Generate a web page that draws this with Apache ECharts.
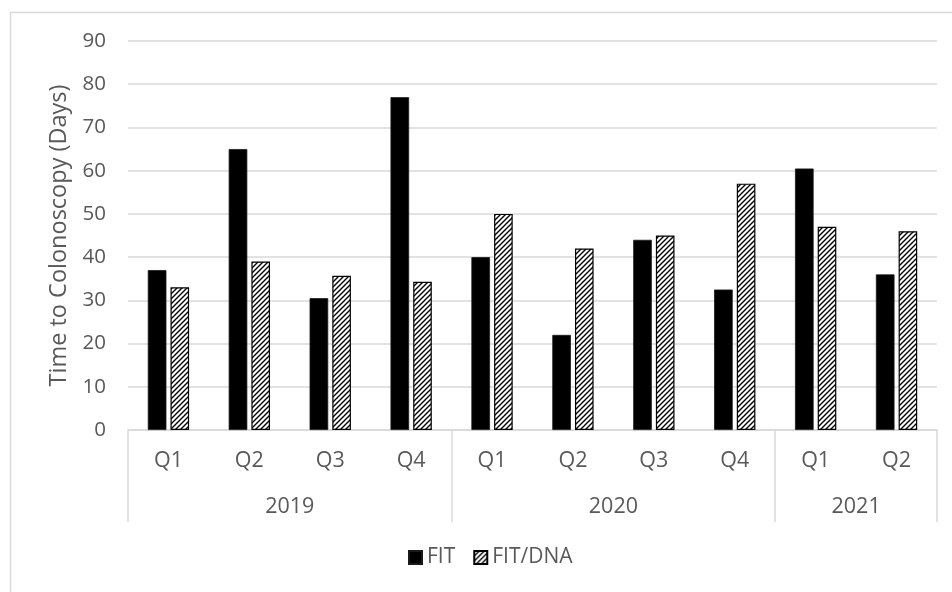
<!DOCTYPE html>
<html>
<head>
<meta charset="utf-8">
<script src="https://cdn.jsdelivr.net/npm/echarts@6/dist/echarts.min.js"></script>
<style>
  html, body { margin: 0; padding: 0; background: #ffffff; }
  #chart { width: 952px; height: 592px; }
</style>
</head>
<body>
<div id="chart"></div>
<script>
// Quarterly time to colonoscopy, grouped by year
var quarters = ['Q1', 'Q2', 'Q3', 'Q4', 'Q1', 'Q2', 'Q3', 'Q4', 'Q1', 'Q2'];
var years = ['2019', '2020', '2021'];
var quartersPerYear = [4, 4, 2];
var fitDays = [37, 65, 30.5, 77, 40, 22, 44, 32.5, 60.5, 36];
var fitDnaDays = [33, 39, 35.7, 34.3, 50, 42, 45, 57, 47, 46];
var yTicks = [0, 10, 20, 30, 40, 50, 60, 70, 80, 90];

var textColor = '#595959';
var lineColor = '#d9d9d9';
var fontFamily = '"Open Sans", "Liberation Sans", sans-serif';

// Diagonal hatch fill for the FIT/DNA bars
function makeHatch() {
  var size = 5;
  var c = document.createElement('canvas');
  c.width = size; c.height = size;
  var g = c.getContext('2d');
  g.fillStyle = '#ffffff';
  g.fillRect(0, 0, size, size);
  g.strokeStyle = '#000000';
  g.lineWidth = 1.4;
  g.beginPath();
  g.moveTo(-1, size + 1); g.lineTo(size + 1, -1);
  g.moveTo(-1, 1); g.lineTo(1, -1);
  g.moveTo(size - 1, size + 1); g.lineTo(size + 1, size - 1);
  g.stroke();
  return c;
}
var hatch = { image: makeHatch(), repeat: 'repeat' };

// Year boundaries and centres on a 0..n value scale under the quarter axis
var yearEdges = [0];
var yearCentres = [];
quartersPerYear.forEach(function (n, i) {
  var start = yearEdges[i];
  yearEdges.push(start + n);
  yearCentres.push(start + n / 2);
});

var chart = echarts.init(document.getElementById('chart'), null, { renderer: 'canvas' });

chart.setOption({
  animation: false,
  backgroundColor: '#ffffff',
  textStyle: { fontFamily: fontFamily },
  graphic: [{
    type: 'rect',
    left: 8, top: 10,
    shape: { width: 980, height: 620 },
    style: { fill: null, stroke: lineColor, lineWidth: 1.5 },
    silent: true
  }],
  grid: { left: 128, right: 15, top: 41, bottom: 162, containLabel: false },
  legend: {
    top: 547,
    left: 408,
    padding: 0,
    itemWidth: 13,
    itemHeight: 13,
    itemGap: 18,
    icon: 'rect',
    textStyle: { color: textColor, fontSize: 21, fontFamily: fontFamily },
    data: ['FIT', 'FIT/DNA']
  },
  xAxis: [{
    type: 'category',
    data: quarters,
    axisLine: { show: true, lineStyle: { color: lineColor, width: 1.5 } },
    axisTick: { show: false },
    axisLabel: { color: textColor, fontSize: 21.5, margin: 20, interval: 0, fontFamily: fontFamily },
    splitLine: { show: false }
  }, {
    type: 'value',
    position: 'bottom',
    min: 0,
    max: quarters.length,
    axisLine: { show: false },
    axisTick: {
      show: true,
      inside: false,
      length: 92,
      customValues: yearEdges,
      lineStyle: { color: lineColor, width: 1.5 }
    },
    axisLabel: {
      show: true,
      color: textColor,
      fontSize: 21.5,
      margin: 66,
      customValues: yearCentres,
      fontFamily: fontFamily,
      formatter: function (v) {
        var i = yearCentres.indexOf(v);
        return i >= 0 ? years[i] : '';
      }
    },
    splitLine: { show: false }
  }],
  yAxis: {
    type: 'value',
    min: yTicks[0],
    max: yTicks[yTicks.length - 1],
    interval: yTicks[1] - yTicks[0],
    name: 'Time to Colonoscopy (Days)',
    nameLocation: 'middle',
    nameGap: 57,
    nameTextStyle: { color: textColor, fontSize: 23.5, fontFamily: fontFamily },
    axisLine: { show: false },
    axisTick: { show: false },
    axisLabel: { color: textColor, fontSize: 20.5, margin: 22, fontFamily: fontFamily },
    splitLine: { show: true, lineStyle: { color: lineColor, width: 1.5 } }
  },
  series: [{
    name: 'FIT',
    type: 'bar',
    xAxisIndex: 0,
    data: fitDays,
    barWidth: '23%',
    barGap: '22%',
    itemStyle: { color: '#000000', borderColor: '#1a1a1a', borderWidth: 0.8 }
  }, {
    name: 'FIT/DNA',
    type: 'bar',
    xAxisIndex: 0,
    data: fitDnaDays,
    barWidth: '23%',
    barGap: '22%',
    itemStyle: { color: hatch, borderColor: '#000000', borderWidth: 1.2 }
  }]
});
</script>
</body>
</html>
